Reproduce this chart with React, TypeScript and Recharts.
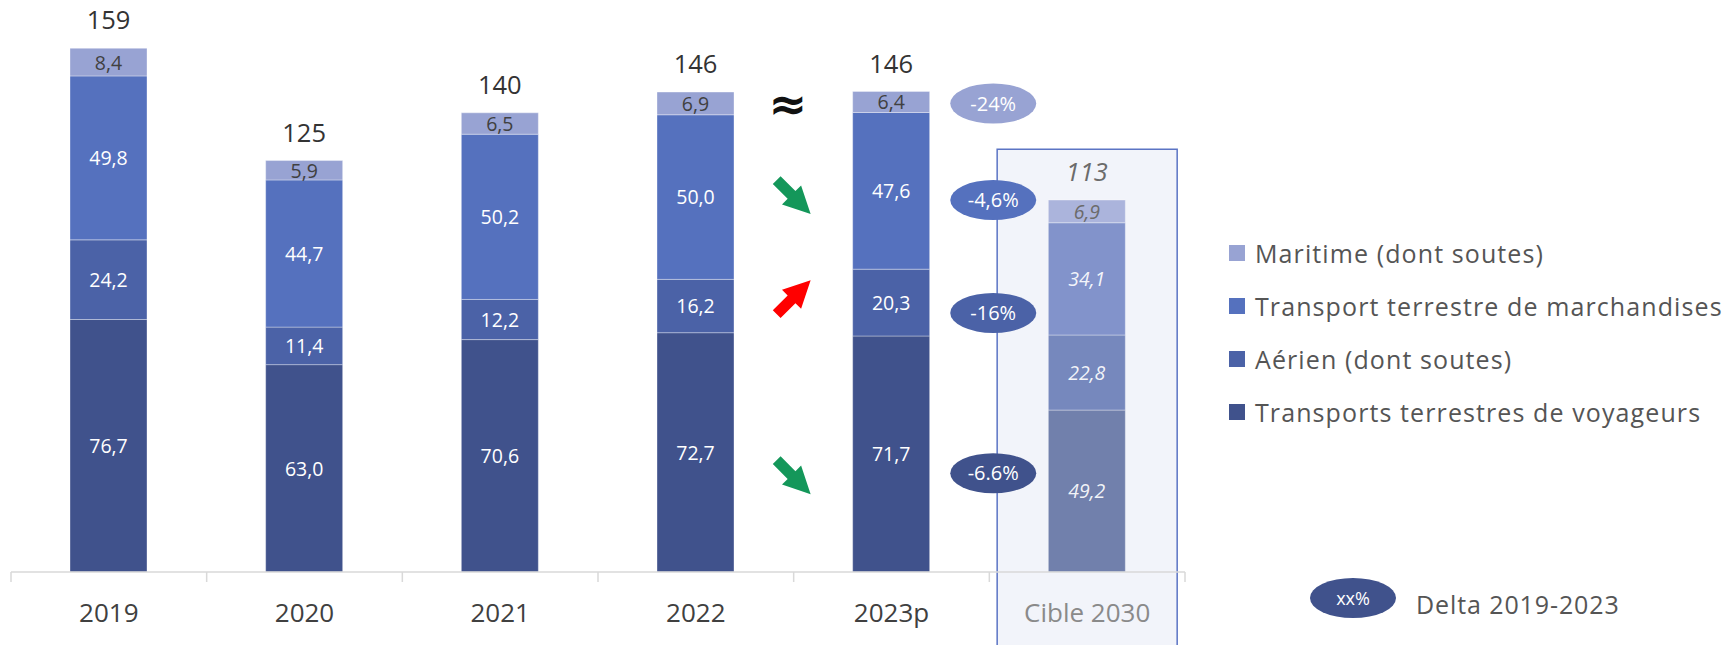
import React from 'react';
import { BarChart, Bar, XAxis, YAxis, Cell, LabelList, ReferenceArea, ReferenceDot } from 'recharts';

// Emissions by transport mode (MtCO2e), bottom to top of each stack
const categories = ['2019', '2020', '2021', '2022', '2023p', 'Cible 2030'];
const voyageurs = [76.7, 63.0, 70.6, 72.7, 71.7, 49.2];
const aerien = [24.2, 11.4, 12.2, 16.2, 20.3, 22.8];
const marchandises = [49.8, 44.7, 50.2, 50.0, 47.6, 34.1];
const maritime = [8.4, 5.9, 6.5, 6.9, 6.4, 6.9];
const totals = [159, 125, 140, 146, 146, 113];

// Delta 2019-2023 badges, placed at a y value in the chart's units
const deltaLabels = ['-24%', '-4,6%', '-16%', '-6.6%'];
const deltaLevels = [142.3, 113, 78.7, 30];
const deltaColors = ['#98A3D3', '#5571BE', '#4B62A7', '#40528C'];

// trend arrows between 2022 and 2023p
const arrowLevels = [113.9, 83.5, 28.8];
const arrowColors = ['#14975A', '#FF0000', '#14975A'];
const arrowAngles = [45, -45, 45];

const TARGET = 5;

const SERIES = [
  { key: 'voyageurs', name: 'Transports terrestres de voyageurs', color: '#40528C', target: '#7180AC', dark: false },
  { key: 'aerien', name: 'Aérien (dont soutes)', color: '#4B62A7', target: '#7688BD', dark: false },
  { key: 'marchandises', name: 'Transport terrestre de marchandises', color: '#5571BE', target: '#8293CB', dark: false },
  { key: 'maritime', name: 'Maritime (dont soutes)', color: '#98A3D3', target: '#ABB4DC', dark: true },
];

const data = categories.map((name, i) => ({
  idx: i,
  name,
  voyageurs: voyageurs[i],
  aerien: aerien[i],
  marchandises: marchandises[i],
  maritime: maritime[i],
}));

const fmt = (v: number) => v.toFixed(1).replace('.', ',');

const box = (p: any) => p.viewBox ?? { x: p.x, y: p.y, width: p.width, height: p.height };

const segmentLabel = (dark: boolean) => (p: any) => {
  const { x, y, width, height } = box(p);
  const target = p.index === TARGET;
  let fill = dark ? '#404040' : '#FFFFFF';
  if (target) fill = dark ? '#6B6B6B' : 'rgba(255,255,255,0.92)';
  return (
    <text x={x + width / 2} y={y + height / 2} dy="0.38em" textAnchor="middle" fontSize={19.5}
      fontStyle={target ? 'italic' : 'normal'} fill={fill}>
      {fmt(Number(p.value))}
    </text>
  );
};

const totalLabel = (p: any) => {
  const { x, y, width } = box(p);
  const target = p.index === TARGET;
  return (
    <text x={x + width / 2} y={y - 28} dy="0.36em" textAnchor="middle" fontSize={25.5}
      fontStyle={target ? 'italic' : 'normal'} fill={target ? '#6B6B6B' : '#333333'}>
      {totals[p.index]}
    </text>
  );
};

const AxisTick = (p: any) => {
  const v = p.payload.value;
  if (!Number.isInteger(v)) {
    return <line x1={p.x} x2={p.x} y1={p.y} y2={p.y + 10} stroke="#D9D9D9" strokeWidth={1.5} />;
  }
  const target = v === TARGET;
  return (
    <text x={p.x} y={p.y + 41} dy="0.35em" textAnchor="middle" fontSize={26} fill={target ? '#8A8A8A' : '#404040'}>
      {categories[v]}
    </text>
  );
};

const tickValues = Array.from({ length: 13 }, (_, i) => -0.5 + i * 0.5);

export default function App() {
  return (
    <div style={{ position: 'absolute', left: 0, top: 0, width: 1727, height: 645, fontFamily: '"Open Sans", sans-serif' }}>
      <BarChart width={1727} height={645} data={data} margin={{ top: 19, right: 542, bottom: 0, left: 11 }}>
        <XAxis
          dataKey="idx"
          type="number"
          domain={[-0.5, 5.5]}
          ticks={tickValues}
          interval={0}
          tick={<AxisTick />}
          tickLine={false}
          tickSize={0}
          tickMargin={0}
          height={73}
          axisLine={{ stroke: '#D9D9D9', strokeWidth: 1.5 }}
        />
        <YAxis hide domain={[0, 168]} />

        {/* highlight frame round the 2030 target */}
        <ReferenceArea x1={4.54} x2={5.46} y1={-30} y2={128.4} ifOverflow="visible"
          fill="#F2F4FA" fillOpacity={1} stroke="#5B74C4" strokeWidth={1.5} />

        {SERIES.map((s, si) => (
          <Bar key={s.key} dataKey={s.key} name={s.name} stackId="a" barSize={77} fill={s.color}
            stroke="rgba(255,255,255,0.35)" strokeWidth={1} isAnimationActive={false}>
            {data.map((_, i) => (
              <Cell key={i} fill={i === TARGET ? s.target : s.color} />
            ))}
            <LabelList dataKey={s.key} content={segmentLabel(s.dark)} />
            {si === SERIES.length - 1 && <LabelList dataKey={s.key} content={totalLabel} />}
          </Bar>
        ))}

        <ReferenceDot x={3.47} y={142.3} r={1} ifOverflow="visible"
          shape={(p: any) => (
            <text x={p.cx} y={p.cy} dy="0.35em" textAnchor="middle" fontSize={46} fontWeight="bold"
              fontFamily="DejaVu Sans" fill="#111111">≈</text>
          )} />

        {arrowLevels.map((lvl, i) => (
          <ReferenceDot key={`arrow-${i}`} x={3.5} y={lvl} r={1} ifOverflow="visible"
            shape={(p: any) => (
              <polygon points="-24,-5.5 -3,-5.5 -3,-13.5 24,0 -3,13.5 -3,5.5 -24,5.5" fill={arrowColors[i]}
                transform={`translate(${p.cx},${p.cy}) rotate(${arrowAngles[i]})`} />
            )} />
        ))}

        {deltaLevels.map((lvl, i) => (
          <ReferenceDot key={`delta-${i}`} x={4.52} y={lvl} r={1} ifOverflow="visible"
            shape={(p: any) => (
              <g>
                <ellipse cx={p.cx} cy={p.cy} rx={43} ry={20} fill={deltaColors[i]} />
                <text x={p.cx} y={p.cy} dy="0.36em" textAnchor="middle" fontSize={20} fill="#FFFFFF">
                  {deltaLabels[i]}
                </text>
              </g>
            )} />
        ))}
      </BarChart>

      {/* legend, top to bottom as in the stack */}
      {[...SERIES].reverse().map((s, i) => (
        <div key={s.key} style={{ position: 'absolute', left: 1229, top: 253 + i * 53 - 15, height: 30,
          display: 'flex', alignItems: 'center', whiteSpace: 'nowrap' }}>
          <div style={{ width: 16, height: 16, background: s.color, marginRight: 10 }} />
          <span style={{ fontSize: 25, letterSpacing: 1.1, color: '#555555' }}>{s.name}</span>
        </div>
      ))}
      <div style={{ position: 'absolute', left: 1310, top: 578, width: 86, height: 40, borderRadius: '50%',
        background: '#40528C', color: '#FFFFFF', fontSize: 18, display: 'flex', alignItems: 'center',
        justifyContent: 'center' }}>xx%</div>
      <div style={{ position: 'absolute', left: 1416, top: 584, height: 40, display: 'flex', alignItems: 'center',
        fontSize: 25, letterSpacing: 0.9, color: '#555555', whiteSpace: 'nowrap' }}>Delta 2019-2023</div>
    </div>
  );
}
